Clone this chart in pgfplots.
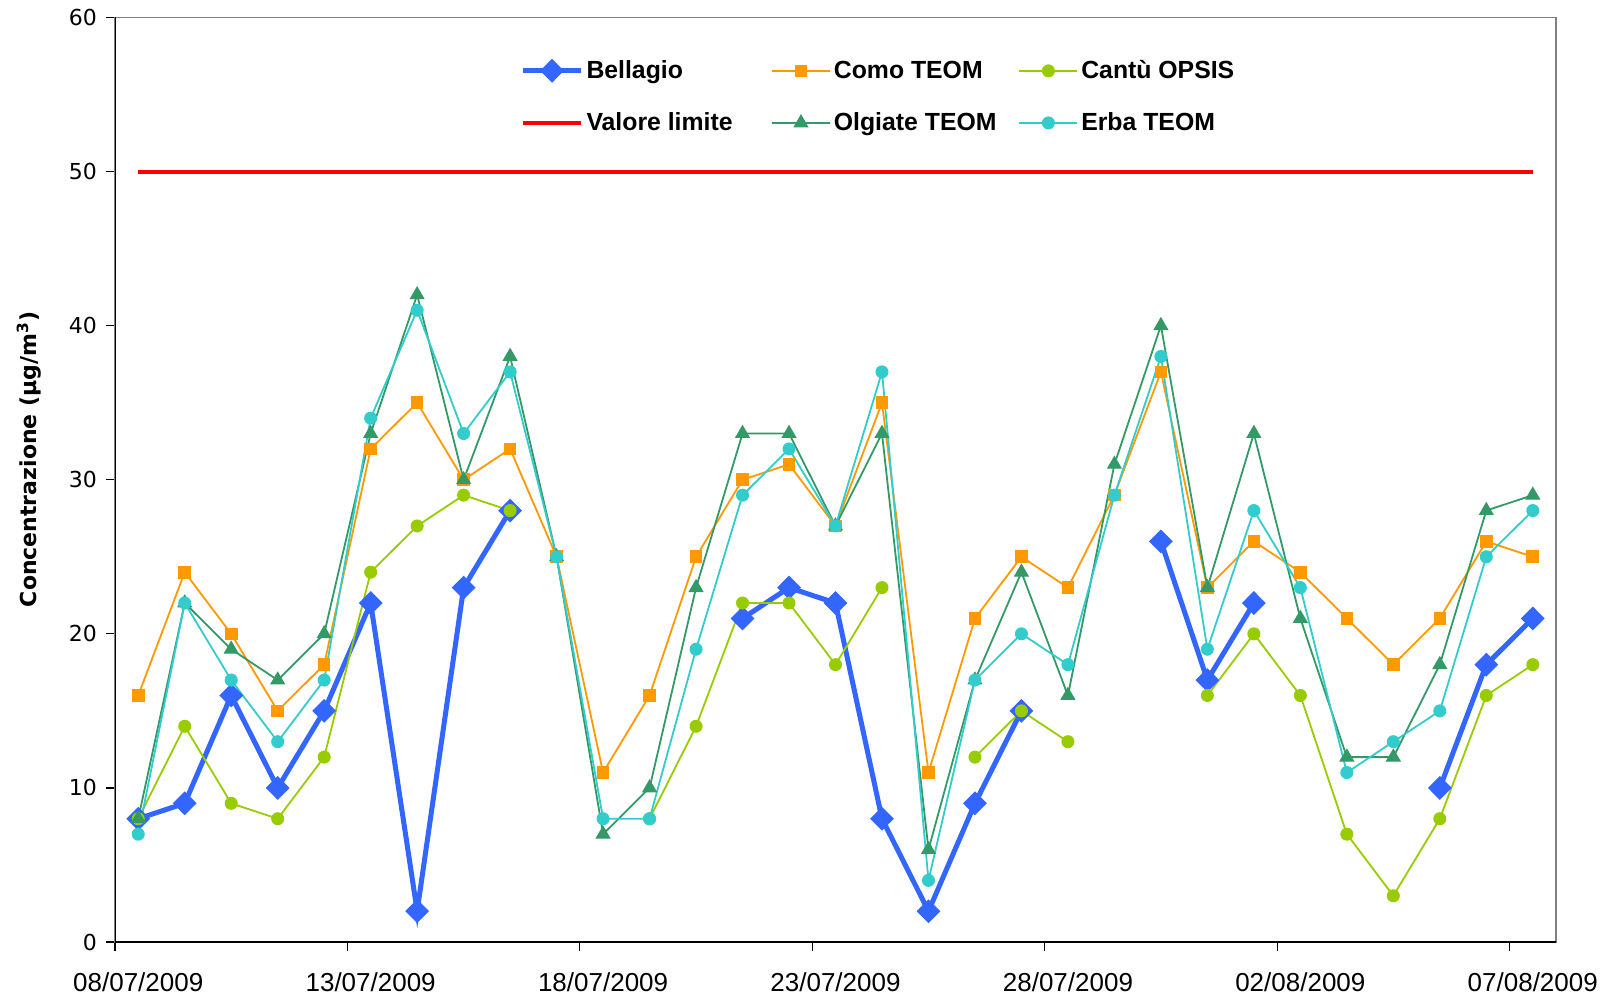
\documentclass[border=0pt]{standalone}
\usepackage{pgfplots}
\pgfplotsset{compat=1.18}
\usepackage{pgfplotstable}
\usepackage{fontspec}
\setmainfont{Liberation Sans}
\newfontfamily\djv{DejaVu Sans}
\definecolor{cbel}{HTML}{3366FF}
\definecolor{ccomo}{HTML}{FF9900}
\definecolor{ccantu}{HTML}{99CC00}
\definecolor{clim}{HTML}{FF0000}
\definecolor{colg}{HTML}{339966}
\definecolor{cerba}{HTML}{33CCCC}
\definecolor{cframe}{HTML}{808080}

\pgfplotstableread{
d bel como cantu olg erba
0 8 16 8 8 7
1 9 24 14 22 22
2 16 20 9 19 17
3 10 15 8 17 13
4 15 18 12 20 17
5 22 32 24 33 34
6 2 35 27 42 41
7 23 30 29 30 33
8 28 32 28 38 37
9 nan 25 nan 25 25
10 nan 11 nan 7 8
11 nan 16 8 10 8
12 nan 25 14 23 19
13 21 30 22 33 29
14 23 31 22 33 32
15 22 27 18 27 27
16 8 35 23 33 37
17 2 11 nan 6 4
18 9 21 12 17 17
19 15 25 15 24 20
20 nan 23 13 16 18
21 nan 29 nan 31 29
22 26 37 nan 40 38
23 17 23 16 23 19
24 22 26 20 33 28
25 nan 24 16 21 23
26 nan 21 7 12 11
27 nan 18 3 12 13
28 10 21 8 18 15
29 18 26 16 28 25
30 21 25 18 29 28
}\data

\begin{document}
\begin{tikzpicture}
\useasboundingbox (-57.5pt,-27.5pt) rectangle (747.5pt,471pt);
\begin{axis}[
  at={(0pt,0pt)}, anchor=south west,
  scale only axis, width=720.5pt, height=462.25pt,
  xmin=-0.5, xmax=30.5, ymin=0, ymax=60,
  xtick={-0.5,4.5,9.5,14.5,19.5,24.5,29.5},
  xticklabels={08/07/2009,13/07/2009,18/07/2009,23/07/2009,28/07/2009,02/08/2009,07/08/2009},
  xticklabel style={font=\fontsize{13}{15}\selectfont, xshift=11.62pt, yshift=-7.5pt},
  ytick={0,10,...,60},
  yticklabel style={font=\djv\fontsize{11}{13}\selectfont, xshift=-1pt},
  /pgf/number format/assume math mode=true,
  tick align=outside, tick pos=left, major tick length=4.5pt,
  tick style={black, line width=0.6pt},
  axis line style={draw=cframe, line width=0.8pt},
  unbounded coords=jump,
  ylabel={Concentrazione (µg/m\textsuperscript{3})},
  every axis y label/.style={at={(axis description cs:-0.0598,0.5219)}, rotate=90, anchor=center,
    font=\djv\bfseries\fontsize{11}{13}\selectfont},
  legend columns=3,
  legend cell align=left,
  legend style={at={(rel axis cs:0.2814,0.9570)}, anchor=north west, draw=none, fill=none,
    inner sep=0pt, outer sep=0pt, font=\bfseries\fontsize{12.4}{14}\selectfont,
    nodes={inner xsep=1.5pt, inner ysep=1.5pt}, row sep=12.5pt,
    /tikz/every even column/.style={column sep=0pt},
    /tikz/every odd column/.style={column sep=0pt}},
  legend image code/.code={\draw[mark repeat=2,mark phase=2,#1] plot coordinates {(0pt,0pt) (14.5pt,0pt) (29pt,0pt)};},
]
\addplot[color=cbel, line width=2.5pt, mark=diamond*, mark size=5.6pt, mark options={solid, xscale=1.33, line width=0.5pt}] table[x=d, y=bel] {\data};
\addlegendentry{\makebox[90.8pt][l]{Bellagio}}
\addplot[color=ccomo, line width=0.9pt, mark=square*, mark size=2.9pt, mark options={solid, line width=0.5pt}] table[x=d, y=como] {\data};
\addlegendentry{\makebox[90.8pt][l]{Como TEOM}}
\addplot[color=ccantu, line width=0.9pt, mark=*, mark size=3pt, mark options={solid, line width=0.5pt}] table[x=d, y=cantu] {\data};
\addlegendentry{\makebox[90.8pt][l]{Cantù OPSIS}}
\addplot[color=clim, line width=2pt, no marks] coordinates {(0,50) (30,50)};
\addlegendentry{\makebox[90.8pt][l]{Valore limite}}
\addplot[color=colg, line width=0.9pt, mark=triangle*, mark size=3.9pt, mark options={solid, line width=0.5pt}] table[x=d, y=olg] {\data};
\addlegendentry{\makebox[90.8pt][l]{Olgiate TEOM}}
\addplot[color=cerba, line width=0.9pt, mark=*, mark size=3pt, mark options={solid, line width=0.5pt}] table[x=d, y=erba] {\data};
\addlegendentry{\makebox[90.8pt][l]{Erba TEOM}}
\draw[black, line width=0.8pt] (rel axis cs:0,1) -- (rel axis cs:0,0) -- (rel axis cs:1,0);
\end{axis}
\end{tikzpicture}
\end{document}
